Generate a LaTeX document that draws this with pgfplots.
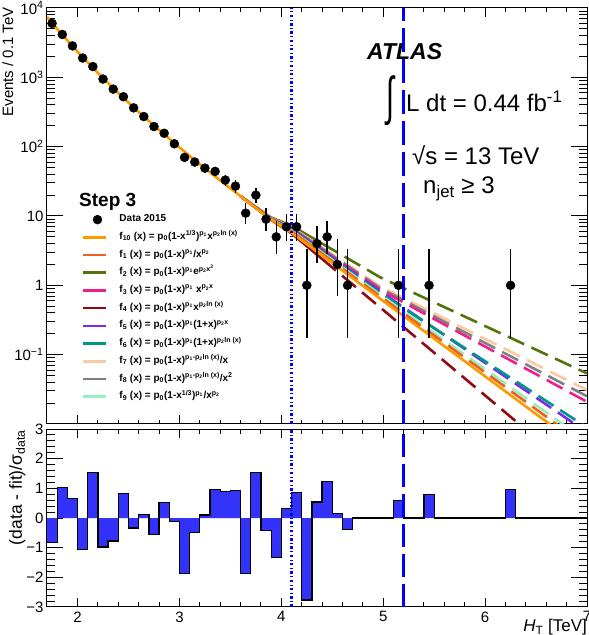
\documentclass[border=0pt]{standalone}
\usepackage{fontspec}
\setmainfont{Liberation Sans}
\usepackage{pgfplots}
\pgfplotsset{compat=1.18}
\definecolor{cF10}{RGB}{255,153,0}
\definecolor{cF1}{RGB}{240,95,30}
\definecolor{cF2}{RGB}{85,115,10}
\definecolor{cF3}{RGB}{240,30,140}
\definecolor{cF4}{RGB}{145,10,20}
\definecolor{cF5}{RGB}{125,40,235}
\definecolor{cF6}{RGB}{0,150,140}
\definecolor{cF7}{RGB}{252,200,160}
\definecolor{cF8}{RGB}{128,128,128}
\definecolor{cF9}{RGB}{150,240,190}
\definecolor{histblue}{RGB}{50,50,250}
\newcommand{\sub}[1]{\textsubscript{#1}}
\newcommand{\sps}[1]{\textsuperscript{#1}}
\pgfplotsset{rootax/.style={
  scale only axis, width=540pt, xmin=1.7, xmax=7,
  axis line style={line width=1pt},
  every tick/.style={black, line width=1pt},
  tick align=inside,
  /pgf/number format/assume math mode=true,
  tick label style={font=\fontsize{15}{15}\selectfont},
  xtick={2,3,4,5,6,7}, minor x tick num=4,
  xtick style={/pgfplots/major tick length=9pt,/pgfplots/minor tick length=4.5pt},
  ytick style={/pgfplots/major tick length=16pt,/pgfplots/minor tick length=8pt},
}}
\pgfplotsset{fitsolid/.style={line width=2.6pt, forget plot},
  fitdash/.style={line width=2.6pt, dash pattern=on 18pt off 8pt, forget plot},
  linelegend/.style={legend image code/.code={\draw[##1] (0pt,0pt) -- (23pt,0pt); \path (34.7pt,0pt);}},
  datalegend/.style={legend image code/.code={\draw[##1] plot coordinates {(14pt,0pt)}; \path (34.7pt,0pt);}}}
\begin{document}
\begin{tikzpicture}
\path[use as bounding box] (0pt,0pt) rectangle (589pt,635pt);
% ---------------- main panel
\begin{axis}[rootax,
  at={(47pt,211pt)}, anchor=south west, height=416pt,
  ymode=log, ymin=0.01, ymax=1e4,
  xticklabels={},
  ytick={0.01,0.1,1,10,100,1000,10000},
  yticklabels={,10\sps{−1},1,10,10\sps{2},10\sps{3},10\sps{4}},
  legend style={at={(rel axis cs:0.0648,0.513)}, anchor=north west, draw=none, fill=none,
     font=\fontsize{10}{12}\selectfont\bfseries, row sep=0pt, inner sep=0pt,
     nodes={inner sep=0pt, text height=11pt, text depth=6.7pt}},
  legend cell align=left,
  linelegend,
]
% legend images
\addlegendimage{only marks, mark=*, mark size=4.5pt, black, datalegend}
\addlegendentry{Data 2015}
\addlegendimage{cF10, line width=2.6pt}
\addlegendentry{f\sub{10} (x) = p\sub{0}(1-x\sps{1/3})\sps{p\sub{1}}x\sps{p\sub{2}ln (x)}}
\addlegendimage{cF1, line width=2.6pt}
\addlegendentry{f\sub{1} (x) = p\sub{0}(1-x)\sps{p\sub{1}}/x\sps{p\sub{2}}}
\addlegendimage{cF2, line width=2.6pt}
\addlegendentry{f\sub{2} (x) = p\sub{0}(1-x)\sps{p\sub{1}}e\sps{p\sub{2}x\sps{2}}}
\addlegendimage{cF3, line width=2.6pt}
\addlegendentry{f\sub{3} (x) = p\sub{0}(1-x)\sps{p\sub{1}} x\sps{p\sub{2}x}}
\addlegendimage{cF4, line width=2.6pt}
\addlegendentry{f\sub{4} (x) = p\sub{0}(1-x)\sps{p\sub{1}}x\sps{p\sub{2}ln (x)}}
\addlegendimage{cF5, line width=2.6pt}
\addlegendentry{f\sub{5} (x) = p\sub{0}(1-x)\sps{p\sub{1}}(1+x)\sps{p\sub{2}x}}
\addlegendimage{cF6, line width=2.6pt}
\addlegendentry{f\sub{6} (x) = p\sub{0}(1-x)\sps{p\sub{1}}(1+x)\sps{p\sub{2}ln (x)}}
\addlegendimage{cF7, line width=2.6pt}
\addlegendentry{f\sub{7} (x) = p\sub{0}(1-x)\sps{p\sub{1}-p\sub{2}ln (x)}/x}
\addlegendimage{cF8, line width=2.6pt}
\addlegendentry{f\sub{8} (x) = p\sub{0}(1-x)\sps{p\sub{1}-p\sub{2}ln (x)}/x\sps{2}}
\addlegendimage{cF9, line width=2.6pt}
\addlegendentry{f\sub{9} (x) = p\sub{0}(1-x\sps{1/3})\sps{p\sub{1}}/x\sps{p\sub{2}}}
% alternative fits: solid near fit range, dashed extrapolation
\addplot[cF2, fitsolid] coordinates {(3.6,19.3) (3.9,9.5) (4.1,7.24) (4.4,4.01)};
\addplot[cF2, fitdash] coordinates {(4.4,4.01) (4.97,1.306) (7.0,0.0537)};
\addplot[cF7, fitsolid] coordinates {(3.6,19.3) (3.9,9.3) (4.1,6.92) (4.4,3.51)};
\addplot[cF7, fitdash] coordinates {(4.4,3.51) (4.97,0.968) (7.0,0.0309)};
\addplot[cF8, fitsolid] coordinates {(3.6,19.3) (3.9,9.2) (4.1,6.76) (4.4,3.39)};
\addplot[cF8, fitdash] coordinates {(4.4,3.39) (4.97,0.914) (7.0,0.0251)};
\addplot[cF3, fitsolid] coordinates {(3.6,19.3) (3.9,9.15) (4.1,6.61) (4.4,3.27)};
\addplot[cF3, fitdash] coordinates {(4.4,3.27) (4.97,0.865) (7.0,0.0209)};
\addplot[cF5, fitsolid] coordinates {(3.6,19.3) (3.9,9.1) (4.1,6.46) (4.4,3.17)};
\addplot[cF5, fitdash] coordinates {(4.4,3.17) (4.97,0.818) (7.0,0.00759)};
\addplot[cF6, fitsolid] coordinates {(3.6,19.3) (3.9,9.05) (4.1,6.31) (4.4,3.06)};
\addplot[cF6, fitdash] coordinates {(4.4,3.06) (4.97,0.774) (7.0,0.00891)};
\addplot[cF9, fitsolid] coordinates {(3.6,19.3) (3.9,9.0) (4.1,6.17) (4.4,2.96)};
\addplot[cF9, fitdash] coordinates {(4.4,2.96) (4.97,0.733) (7.0,0.00562)};
\addplot[cF1, fitsolid] coordinates {(3.6,19.3) (3.9,8.95) (4.1,6.03) (4.4,2.86)};
\addplot[cF1, fitdash] coordinates {(4.4,2.86) (4.97,0.693) (7.0,0.00479)};
\addplot[cF4, fitsolid] coordinates {(3.6,19.3) (3.9,8.8) (4.1,5.62) (4.4,2.40)};
\addplot[cF4, fitdash] coordinates {(4.4,2.40) (4.97,0.48) (7.0,0.00151)};
% nominal fit f10
\addplot[cF10, fitsolid] coordinates {(1.7,7413) (1.8,4977) (2.0,2333) (2.2,1156) (2.4,593) (2.6,316) (2.8,174) (3.0,97.7) (3.2,55.3) (3.4,32.6) (3.6,19.3) (3.8,11.4) (3.9,8.9) (4.1,5.75) (4.97,0.641) (7.0,0.00398)};
% vertical lines
\addplot[blue, line width=2.4pt, dash pattern=on 2.5pt off 2.5pt on 0.8pt off 2.5pt, forget plot] coordinates {(4.1,0.01) (4.1,1e4)};
\addplot[blue, line width=2.4pt, dash pattern=on 24pt off 7pt, forget plot] coordinates {(5.2,0.01) (5.2,1e4)};
% data
\addplot[only marks, mark=*, mark size=4.5pt, black, forget plot,
  error bars/.cd, y dir=both, y explicit, error mark=none,
  error bar style={line width=1.4pt, black}]
  table[x=x, y=y, y error plus=ep, y error minus=em] {
x y ep em
1.75 6000 77.5 77.5
1.85 4150 64.4 64.4
1.95 2840 53.3 53.3
2.05 1900 43.6 43.6
2.15 1430 37.8 37.8
2.25 944 30.7 30.7
2.35 676 26.0 26.0
2.45 525 22.9 22.9
2.55 363 19.1 19.1
2.65 272 16.5 16.5
2.75 195 14.0 14.0
2.85 156 12.5 12.5
2.95 110 10.5 10.5
3.05 70 8.9 8.3
3.15 60 8.3 7.7
3.25 49 7.5 7.0
3.35 44 7.1 6.6
3.45 33 6.3 5.7
3.55 27 5.7 5.2
3.65 11 4.42 3.27
3.75 20 5.5 4.4
3.85 9 4.11 2.94
3.95 5 3.38 2.16
4.05 7 3.77 2.58
4.15 7 3.77 2.58
4.25 1 2.30 0.827
4.35 4 3.16 1.91
4.45 5 3.38 2.16
4.55 2 2.64 1.29
4.65 1 2.30 0.827
5.15 1 2.30 0.827
5.45 1 2.30 0.827
6.25 1 2.30 0.827
};
\end{axis}
% ---------------- ratio panel
\begin{axis}[rootax,
  at={(47pt,28pt)}, anchor=south west, height=178pt,
  ymin=-3, ymax=3,
  ytick={-3,-2,-1,0,1,2,3}, yticklabels={−3,−2,−1,0,1,2,3},
  minor y tick num=4,
  xticklabel style={yshift=-1pt},
]
\addplot[ybar interval, fill=histblue, draw=none] coordinates {
(1.7,-0.82) (1.8,1.03) (1.9,0.65) (2.0,-1.06) (2.1,1.54) (2.2,-0.98) (2.3,-0.78) (2.4,0.82) (2.5,-0.34) (2.6,0.11)
(2.7,-0.55) (2.8,0.53) (2.9,-0.12) (3.0,-1.87) (3.1,-0.50) (3.2,0.10) (3.3,0.96) (3.4,0.89) (3.5,0.92) (3.6,-1.87)
(3.7,1.54) (3.8,-0.41) (3.9,-1.33) (4.0,0.33) (4.1,0.85) (4.2,-2.76) (4.3,0.54) (4.4,1.23) (4.5,0.16) (4.6,-0.39)
(4.7,0) (4.8,0) (4.9,0) (5.0,0) (5.1,0.60) (5.2,0) (5.3,0) (5.4,0.80) (5.5,0) (5.6,0) (5.7,0) (5.8,0) (5.9,0) (6.0,0)
(6.1,0) (6.2,0.97) (6.3,0) (6.4,0) (6.5,0) (6.6,0) (6.7,0) (6.8,0) (6.9,0) (7.0,0)};
\addplot[const plot mark left, black, line width=1.3pt] coordinates {
(1.7,-0.82) (1.8,1.03) (1.9,0.65) (2.0,-1.06) (2.1,1.54) (2.2,-0.98) (2.3,-0.78) (2.4,0.82) (2.5,-0.34) (2.6,0.11)
(2.7,-0.55) (2.8,0.53) (2.9,-0.12) (3.0,-1.87) (3.1,-0.50) (3.2,0.10) (3.3,0.96) (3.4,0.89) (3.5,0.92) (3.6,-1.87)
(3.7,1.54) (3.8,-0.41) (3.9,-1.33) (4.0,0.33) (4.1,0.85) (4.2,-2.76) (4.3,0.54) (4.4,1.23) (4.5,0.16) (4.6,-0.39)
(4.7,0) (4.8,0) (4.9,0) (5.0,0) (5.1,0.60) (5.2,0) (5.3,0) (5.4,0.80) (5.5,0) (5.6,0) (5.7,0) (5.8,0) (5.9,0) (6.0,0)
(6.1,0) (6.2,0.97) (6.3,0) (6.4,0) (6.5,0) (6.6,0) (6.7,0) (6.8,0) (6.9,0) (7.0,0)};
\addplot[blue, line width=2.4pt, dash pattern=on 2.5pt off 2.5pt on 0.8pt off 2.5pt] coordinates {(4.1,-3) (4.1,3)};
\addplot[blue, line width=2.4pt, dash pattern=on 23pt off 7pt] coordinates {(5.2,-3) (5.2,3)};
\end{axis}
% ---------------- texts
\node[anchor=base west, inner sep=0pt, font=\fontsize{23}{23}\selectfont\bfseries\itshape] at (367pt,575pt) {ATLAS};
\node[inner sep=0pt] at (390pt,534pt) {\fontsize{24}{24}\selectfont\scalebox{1.2}[2.2]{∫}};
\node[anchor=base west, inner sep=0pt, font=\fontsize{24}{24}\selectfont] at (406pt,523pt) {L dt = 0.44 fb\sps{-1}};
\node[anchor=base west, inner sep=0pt, font=\fontsize{24}{24}\selectfont] at (412pt,470pt) {√s = 13 TeV};
\node[anchor=base west, inner sep=0pt, font=\fontsize{24}{24}\selectfont] at (423pt,441pt) {n\sub{jet} ≥ 3};
\node[anchor=base west, inner sep=0pt, font=\fontsize{19}{19}\selectfont\bfseries] at (79pt,428pt) {Step 3};
\node[rotate=90, anchor=north east, inner sep=0pt, font=\fontsize{15}{15}\selectfont] at (2pt,628pt) {Events / 0.1 TeV};
\node[rotate=90, anchor=north east, inner sep=0pt, font=\fontsize{17.5}{17.5}\selectfont] at (9pt,205pt) {(data - fit)/σ\sub{data}};
\node[anchor=north east, inner sep=0pt, font=\fontsize{17}{17}\selectfont] at (587pt,16pt) {\textit{H}\sub{T} [TeV]};
\end{tikzpicture}
\end{document}
